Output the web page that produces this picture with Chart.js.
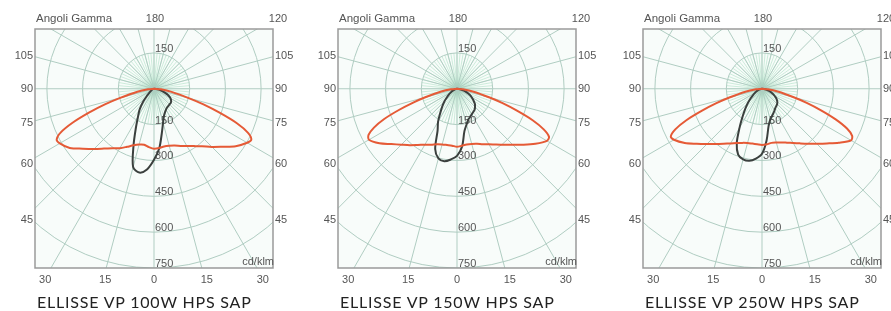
<!DOCTYPE html>
<html>
<head>
<meta charset="utf-8">
<script src="https://cdn.jsdelivr.net/npm/chart.js@4.4.0/dist/chart.umd.min.js"></script>
<style>
    html, body { margin: 0; padding: 0; background: #fff; }
    body { width: 891px; height: 311px; overflow: hidden; position: relative; }
    .panel { position: absolute; top: 0; width: 304px; height: 311px; }
    .panel canvas { position: absolute; left: 0; top: 0; }
    .caption {
        position: absolute; left: 37px; top: 292px;
        font-family: Lato, sans-serif; font-weight: 400; font-size: 16px;
        letter-spacing: 0.8px; line-height: 20px; color: #222; white-space: nowrap;
    }
</style>
</head>
<body>
<div class="panel" style="left:0px"><canvas id="c0" width="304" height="311"></canvas><div class="caption" id="t0"></div></div>
<div class="panel" style="left:303px"><canvas id="c1" width="304" height="311"></canvas><div class="caption" id="t1"></div></div>
<div class="panel" style="left:608px"><canvas id="c2" width="304" height="311"></canvas><div class="caption" id="t2"></div></div>
<script>
// gamma angles (deg from nadir) shared by every curve
const gammaAngles = [0, 5, 10, 15, 20, 25, 30, 35, 40, 45, 50, 55, 60, 62.5, 65, 67.5, 70, 72.5, 75, 80, 85, 90]

const panelTitles = ['ELLISSE VP 100W HPS SAP', 'ELLISSE VP 150W HPS SAP', 'ELLISSE VP 250W HPS SAP']

// intensities in cd/klm, C0-C180 plane (red)
const red100C0 = [251, 249, 245, 247, 253, 264, 277, 293, 314, 344, 377, 419, 452, 461, 436, 377, 293, 218, 151, 75, 29, 0]
const red100C180 = [251, 245, 238, 242, 252, 268, 287, 304, 327, 356, 390, 432, 457, 461, 432, 369, 289, 214, 147, 71, 25, 0]
const red150C0 = [243, 239, 237, 239, 245, 256, 268, 285, 306, 331, 365, 402, 436, 436, 402, 344, 268, 201, 142, 71, 25, 0]
const red150C180 = [243, 239, 239, 241, 247, 258, 270, 287, 308, 331, 360, 398, 427, 419, 385, 331, 260, 193, 138, 67, 25, 0]
const red250C0 = [235, 233, 230, 233, 239, 249, 262, 279, 300, 325, 356, 394, 432, 427, 394, 335, 264, 197, 138, 67, 25, 0]
const red250C180 = [235, 233, 233, 235, 241, 251, 264, 281, 302, 327, 358, 396, 427, 432, 402, 344, 268, 201, 142, 71, 25, 0]

// C90-C270 plane (dark)
const dark100C90 = [297, 251, 189, 147, 122, 109, 101, 96, 94, 92, 92, 88, 80, 74, 67, 59, 50, 42, 34, 21, 8, 0]
const dark100C270 = [297, 339, 356, 339, 251, 180, 134, 105, 71, 42, 25, 17, 13, 11, 9, 7, 4, 3, 2, 0, 0, 0]
const dark150C90 = [281, 243, 180, 155, 138, 130, 124, 119, 115, 107, 98, 84, 71, 65, 59, 50, 42, 36, 29, 17, 8, 0]
const dark150C270 = [281, 297, 308, 302, 268, 193, 159, 122, 96, 75, 54, 42, 29, 25, 21, 17, 13, 10, 8, 4, 2, 0]
const dark250C90 = [272, 218, 159, 134, 122, 113, 105, 98, 94, 90, 84, 75, 63, 57, 50, 44, 38, 31, 25, 17, 8, 0]
const dark250C270 = [272, 293, 306, 306, 293, 251, 189, 142, 109, 84, 63, 46, 34, 30, 25, 21, 17, 13, 10, 4, 2, 0]

// axis labels
const sideTickValues = [138, 0, -142, -314, -549]
const sideTickLabels = ['105', '90', '75', '60', '45']
const bottomTickValues = [-457, -205, 0, 222, 457]
const bottomTickLabels = ['30', '15', '0', '15', '30']
const ringValues = [150, 300, 450, 600, 750]

const panels = [
    { red: [red100C180, red100C0], dark: [dark100C270, dark100C90] },
    { red: [red150C180, red150C0], dark: [dark150C270, dark150C90] },
    { red: [red250C180, red250C0], dark: [dark250C270, dark250C90] }
]

const labelFont = '11px "Liberation Sans", Arial, sans-serif'
const labelColor = '#555'

/**
 * Turn a left/right pair of half planes into one closed loop through the origin
 */
function polarToXY(gammas, leftI, rightI) {
    const pts = []
    for (let i = gammas.length - 1; i >= 0; i--) {
        const g = gammas[i] * Math.PI / 180
        pts.push({ x: -leftI[i] * Math.sin(g), y: -leftI[i] * Math.cos(g) })
    }
    for (let i = 1; i < gammas.length; i++) {
        const g = gammas[i] * Math.PI / 180
        pts.push({ x: rightI[i] * Math.sin(g), y: -rightI[i] * Math.cos(g) })
    }
    return pts
}

// polar grid, box and text drawn against the chart's own scales
const polarGrid = {
    id: 'polarGrid',
    beforeDatasetsDraw(chart) {
        const { ctx, chartArea: a, scales: { x, y } } = chart
        const cx = x.getPixelForValue(0)
        const cy = y.getPixelForValue(0)
        const ux = x.getPixelForValue(1) - cx
        const uy = cy - y.getPixelForValue(1)

        ctx.save()
        ctx.fillStyle = '#f8fcfa'
        ctx.fillRect(a.left, a.top, a.right - a.left, a.bottom - a.top)
        ctx.beginPath()
        ctx.rect(a.left, a.top, a.right - a.left, a.bottom - a.top)
        ctx.clip()

        // fine star round the centre
        ctx.strokeStyle = 'rgba(110, 200, 150, 0.4)'
        ctx.lineWidth = 0.8
        for (let d = 0; d < 360; d += 5) {
            const r = d * Math.PI / 180
            ctx.beginPath()
            ctx.moveTo(cx, cy)
            ctx.lineTo(cx + Math.sin(r) * 150 * ux, cy + Math.cos(r) * 150 * uy)
            ctx.stroke()
        }

        ctx.strokeStyle = '#b0cdc2'
        ctx.lineWidth = 1
        ringValues.concat([900]).forEach(v => {
            ctx.beginPath()
            ctx.ellipse(cx, cy, v * ux, v * uy, 0, 0, Math.PI * 2)
            ctx.stroke()
        })
        for (let d = 0; d < 360; d += 15) {
            const r = d * Math.PI / 180
            ctx.beginPath()
            ctx.moveTo(cx, cy)
            ctx.lineTo(cx + Math.sin(r) * 1400 * ux, cy + Math.cos(r) * 1400 * uy)
            ctx.stroke()
        }
        ctx.restore()

        // ring values
        ctx.save()
        ctx.font = labelFont
        ctx.fillStyle = labelColor
        ctx.textAlign = 'left'
        ctx.textBaseline = 'alphabetic'
        ctx.fillText(String(ringValues[0]), cx + 1, y.getPixelForValue(ringValues[0]) - 1)
        ringValues.forEach(v => {
            ctx.fillText(String(v), cx + 1, y.getPixelForValue(-v) - 1)
        })
        ctx.restore()
    },
    afterDraw(chart) {
        const { ctx, chartArea: a, scales: { x } } = chart
        ctx.save()
        ctx.strokeStyle = '#9a9a9a'
        ctx.lineWidth = 1.5
        ctx.strokeRect(a.left, a.top, a.right - a.left, a.bottom - a.top)

        ctx.fillStyle = labelColor
        ctx.textBaseline = 'middle'
        ctx.textAlign = 'left'
        ctx.font = '11.5px "Liberation Sans", Arial, sans-serif'
        ctx.fillText('Angoli Gamma', a.left + 1, 19)
        ctx.font = labelFont
        ctx.textAlign = 'center'
        ctx.fillText('180', x.getPixelForValue(0) + 1, 19)
        ctx.fillText('120', a.right + 5, 19)
        ctx.textAlign = 'right'
        ctx.textBaseline = 'alphabetic'
        ctx.fillText('cd/klm', a.right + 1, a.bottom - 3)
        ctx.restore()
    }
}

function tickOpts() {
    return { font: { family: '"Liberation Sans", Arial, sans-serif', size: 11 }, color: labelColor, autoSkip: false, maxRotation: 0 }
}

function createPolarChart(canvas, panel) {
    return new Chart(canvas.getContext('2d'), {
        type: 'scatter',
        data: {
            datasets: [{
                data: polarToXY(gammaAngles, panel.red[0], panel.red[1]),
                showLine: true,
                borderColor: '#e55a36',
                borderWidth: 2,
                pointRadius: 0,
                tension: 0.3
            }, {
                data: polarToXY(gammaAngles, panel.dark[0], panel.dark[1]),
                showLine: true,
                borderColor: '#3b403e',
                borderWidth: 2,
                pointRadius: 0,
                tension: 0.3
            }]
        },
        options: {
            responsive: false,
            animation: false,
            events: [],
            layout: { padding: { top: 29, left: 0, right: 0, bottom: 0 } },
            plugins: { legend: { display: false }, tooltip: { enabled: false } },
            scales: {
                x: {
                    type: 'linear', position: 'bottom', min: -500, max: 500,
                    grid: { display: false, drawTicks: false }, border: { display: false },
                    afterBuildTicks: s => { s.ticks = bottomTickValues.map(v => ({ value: v })) },
                    afterFit: s => { s.height = 43 },
                    ticks: Object.assign(tickOpts(), { padding: 5, callback: (v, i) => bottomTickLabels[i] })
                },
                y: {
                    type: 'linear', position: 'left', min: -750, max: 250,
                    grid: { display: false, drawTicks: false }, border: { display: false },
                    afterBuildTicks: s => { s.ticks = sideTickValues.map(v => ({ value: v })) },
                    afterFit: s => { s.width = 35 },
                    ticks: Object.assign(tickOpts(), { padding: 2, callback: (v, i) => sideTickLabels[i] })
                },
                y2: {
                    type: 'linear', position: 'right', min: -750, max: 250,
                    grid: { display: false, drawTicks: false }, border: { display: false },
                    afterBuildTicks: s => { s.ticks = sideTickValues.map(v => ({ value: v })) },
                    afterFit: s => { s.width = 31 },
                    ticks: Object.assign(tickOpts(), { padding: 2, callback: (v, i) => sideTickLabels[i] })
                }
            }
        },
        plugins: [polarGrid]
    })
}

panels.forEach((p, i) => {
    createPolarChart(document.getElementById('c' + i), p)
    document.getElementById('t' + i).textContent = panelTitles[i]
})
</script>
</body>
</html>
